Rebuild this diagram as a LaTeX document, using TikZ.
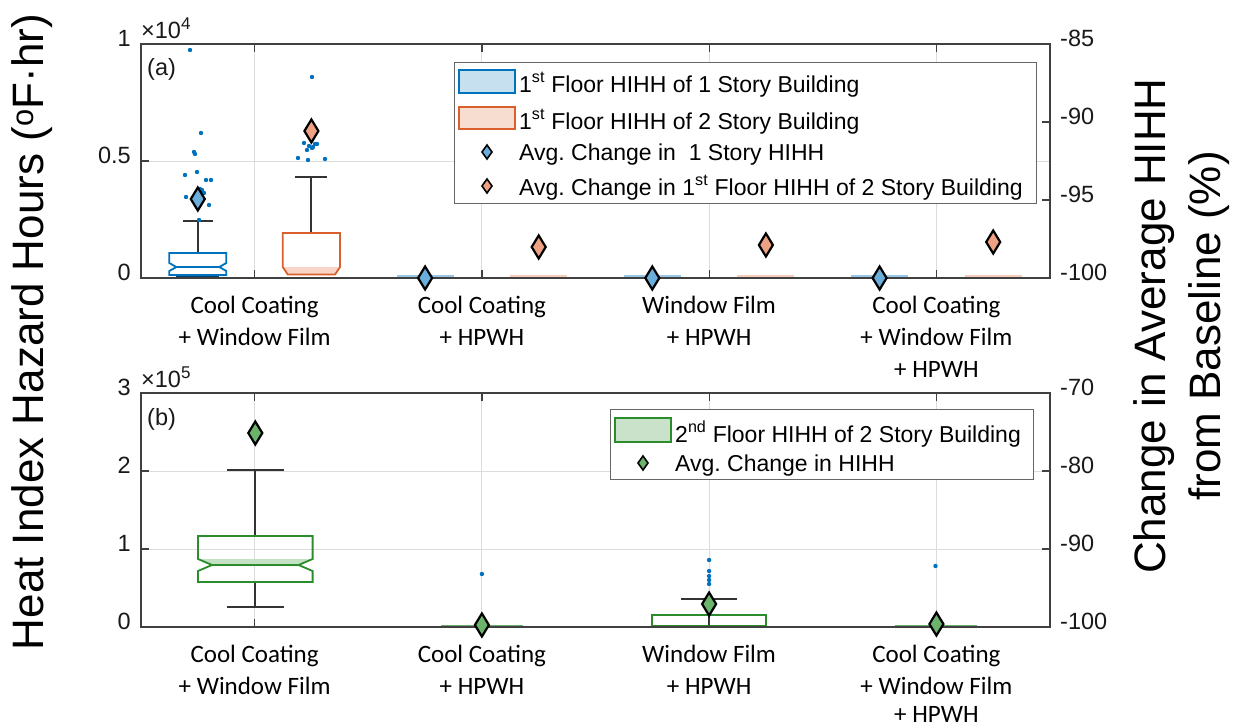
\documentclass[tikz,border=0pt]{standalone}
\usepackage{fontspec}
\setmainfont{Liberation Sans}
\newfontfamily\catfont{Carlito}
\definecolor{mblue}{HTML}{0072BD}
\definecolor{morange}{HTML}{D95F2B}
\definecolor{mgreen}{HTML}{2A8C2A}
\definecolor{axgray}{HTML}{404040}
\definecolor{gridgray}{HTML}{DCDCDC}
\definecolor{fblue}{HTML}{6AAEDC}
\definecolor{forange}{HTML}{EFA283}
\definecolor{fgreen}{HTML}{6CB46C}
\newcommand\sciexp[1]{\raisebox{9pt}{\fontsize{17}{17}\selectfont #1}}
\tikzset{
  gridline/.style={draw=gridgray, line width=1pt},
  axisline/.style={draw=axgray, line width=1.4pt},
  tickmark/.style={draw=axgray, line width=1.2pt},
  whisk/.style={draw=black!80, line width=2pt},
  ticklbl/.style={font=\fontsize{23.5}{28}\selectfont, inner sep=0pt, text=black!90},
  catlbl/.style={font=\catfont\fontsize{25}{30}\selectfont, inner sep=0pt, anchor=base},
  leglbl/.style={font=\fontsize{23}{27}\selectfont, inner sep=0pt, anchor=base west},
  axlbl/.style={font=\fontsize{44}{52}\selectfont, inner sep=0pt, anchor=base, rotate=90},
  legframe/.style={draw=axgray!80, line width=1pt, fill=white},
  pics/avgmark/.style={code={\draw[line width=2.2pt, fill=#1, line join=miter] (-7,0)--(0,-11.5)--(7,0)--(0,11.5)--cycle;}},
  pics/legmark/.style={code={\draw[line width=1.6pt, fill=#1] (-5,0)--(0,-7)--(5,0)--(0,7)--cycle;}},
}
\begin{document}
\begin{tikzpicture}[x=1pt,y=-1pt]
\useasboundingbox (0,0) rectangle (1239,726);

% ---------------- panel (a) ----------------
\foreach \gx in {254.6,481.9,709.1,936.4} \draw[gridline] (\gx,44)--(\gx,278);
\draw[gridline] (141,161)--(1050,161);

% flat boxes at zero
\foreach \gx in {425.1,652.3,879.6} \draw[fblue!70, line width=3pt] (\gx-28.5,276.5)--(\gx+28.5,276.5);
\foreach \gx in {538.7,765.9,993.2} \draw[forange!55, line width=3pt] (\gx-28.5,276.5)--(\gx+28.5,276.5);

% blue box, group 1
\draw[whisk] (197.8,253)--(197.8,221);
\draw[whisk] (183,221)--(213,221);
\draw[mblue, line width=1.8pt] (169.3,253) -- (226.3,253) -- (226.3,263) -- (219.3,267) -- (226.3,271) -- (226.3,275) -- (169.3,275) -- (169.3,271) -- (176.3,267) -- (169.3,263) -- cycle;
\draw[mblue, line width=1.8pt] (176.3,267)--(219.3,267);
\draw[mblue!60!black, line width=2pt] (176.3,277)--(219.3,277);

% orange box, group 1
\draw[whisk] (311.4,233)--(311.4,177);
\draw[whisk] (295,177)--(327,177);
\fill[forange!45] (282.8,267)--(340,267)--(335,274.5)--(287.8,274.5)--cycle;
\draw[morange, line width=1.8pt] (282.8,233)--(340,233)--(340,267)--(335,274.5)--(287.8,274.5)--(282.8,267)--cycle;

% outliers
\foreach \px/\py in {190/50,201/133,194/152,195/154,185/175,197/172,206/180,211/180,186/197,202/190,204/193,209/205,199/220,200/189,
                     312/77,304/143,309/146,315/144,317/144,313/147,307/150,298/158,308/160,325/159,312/148}
  \fill[mblue] (\px,\py) circle[radius=2.2pt];

% axes frame and ticks
\draw[axisline] (141,44) rectangle (1050,278);
\foreach \gx in {254.6,481.9,709.1,936.4} {\draw[tickmark] (\gx,278)--(\gx,270); \draw[tickmark] (\gx,44)--(\gx,52);}
\foreach \ty in {44,161,278} \draw[tickmark] (141,\ty)--(149,\ty);
\foreach \ty in {44,122,200,278} \draw[tickmark] (1050,\ty)--(1042,\ty);

\node[ticklbl, anchor=mid east] (la0) at (131,278) {0};
\node[ticklbl, anchor=mid east] (la5) at (131,161) {0.5};
\node[ticklbl, anchor=mid east] (la10) at (131,44) {1};
\node[ticklbl, anchor=base west] (laexp) at (141,38) {×10\sciexp{4}};
\node[ticklbl, anchor=mid west] (ra85) at (1060,44) {-85};
\node[ticklbl, anchor=mid west] (ra90) at (1060,122) {-90};
\node[ticklbl, anchor=mid west] (ra95) at (1060,200) {-95};
\node[ticklbl, anchor=mid west] (ra100) at (1060,278) {-100};
\node[ticklbl, anchor=base west] (tagA) at (147,75) {(a)};

% average markers
\pic at (197.8,199) {avgmark=fblue};
\pic at (311.4,131) {avgmark=forange};
\pic at (425.1,278) {avgmark=fblue};
\pic at (538.7,247) {avgmark=forange};
\pic at (652.3,278) {avgmark=fblue};
\pic at (765.9,245) {avgmark=forange};
\pic at (879.6,278) {avgmark=fblue};
\pic at (993.2,242) {avgmark=forange};

% legend (a)
\draw[legframe] (454,62) rectangle (1036,203);
\draw[mblue, fill=mblue!22, line width=1.6pt] (459,70) rectangle (515,93);
\draw[morange, fill=morange!22, line width=1.6pt] (459,107) rectangle (515,129);
\pic at (487,152) {legmark=fblue};
\pic at (487,186) {legmark=forange};
\node[leglbl] (lga1) at (519,92) {1\textsuperscript{st} Floor HIHH of 1 Story Building};
\node[leglbl] (lga2) at (519,129) {1\textsuperscript{st} Floor HIHH of 2 Story Building};
\node[leglbl] (lga3) at (519,160) {Avg.\ Change in~ 1 Story HIHH};
\node[leglbl] (lga4) at (519,195) {Avg.\ Change in 1\textsuperscript{st} Floor HIHH of 2 Story Building};

% category labels (a)
\node[catlbl] (ca1a) at (254.6,313) {Cool Coating};
\node[catlbl] (ca1b) at (254.6,345) {+ Window Film};
\node[catlbl] (ca2a) at (481.9,313) {Cool Coating};
\node[catlbl] (ca2b) at (481.9,345) {+ HPWH};
\node[catlbl] (ca3a) at (709.1,313) {Window Film};
\node[catlbl] (ca3b) at (709.1,345) {+ HPWH};
\node[catlbl] (ca4a) at (936.4,313) {Cool Coating};
\node[catlbl] (ca4b) at (936.4,345) {+ Window Film};
\node[catlbl] (ca4c) at (936.4,377) {+ HPWH};

% ---------------- panel (b) ----------------
\foreach \gx in {254.6,481.9,709.1,936.4} \draw[gridline] (\gx,393)--(\gx,627);
\foreach \ty in {471,549} \draw[gridline] (141,\ty)--(1050,\ty);

% flat boxes at zero
\draw[mgreen!70, line width=2.5pt] (441,626)--(523,626);
\draw[mgreen!70, line width=2.5pt] (895,626)--(977,626);

% green box, group 1
\draw[whisk] (255.3,536)--(255.3,470);
\draw[whisk] (227,470)--(284,470);
\draw[whisk] (255.3,582)--(255.3,607);
\draw[whisk] (227,607)--(284,607);
\fill[fgreen!40] (198,559)--(312.6,559)--(298.6,566)--(212,566)--cycle;
\draw[mgreen, line width=1.8pt] (198,536)--(312.6,536)--(312.6,559)--(298.6,565)--(312.6,571)--(312.6,582)--(198,582)--(198,571)--(212,565)--(198,559)--cycle;
\draw[mgreen, line width=1.8pt] (212,565)--(298.6,565);

% green box, group 3
\draw[whisk] (709.1,615)--(709.1,599);
\draw[whisk] (681,599)--(737,599);
\draw[whisk] (709.1,615)--(709.1,626);
\draw[mgreen, line width=1.8pt] (651.7,615) rectangle (765.7,626);

% outliers
\foreach \px/\py in {481.9/574,709.1/560,709.1/571,709.1/576,709.1/580,709.1/584,935.5/566}
  \fill[mblue] (\px,\py) circle[radius=2.2pt];

% axes frame and ticks
\draw[axisline] (141,393) rectangle (1050,627);
\foreach \gx in {254.6,481.9,709.1,936.4} {\draw[tickmark] (\gx,627)--(\gx,619); \draw[tickmark] (\gx,393)--(\gx,401);}
\foreach \ty in {393,471,549,627} {\draw[tickmark] (141,\ty)--(149,\ty); \draw[tickmark] (1050,\ty)--(1042,\ty);}

\node[ticklbl, anchor=mid east] (lb0) at (131,627) {0};
\node[ticklbl, anchor=mid east] (lb1) at (131,549) {1};
\node[ticklbl, anchor=mid east] (lb2) at (131,471) {2};
\node[ticklbl, anchor=mid east] (lb3) at (131,393) {3};
\node[ticklbl, anchor=base west] (lbexp) at (141,387) {×10\sciexp{5}};
\node[ticklbl, anchor=mid west] (rb70) at (1060,393) {-70};
\node[ticklbl, anchor=mid west] (rb80) at (1060,471) {-80};
\node[ticklbl, anchor=mid west] (rb90) at (1060,549) {-90};
\node[ticklbl, anchor=mid west] (rb100) at (1060,627) {-100};
\node[ticklbl, anchor=base west] (tagB) at (147,425) {(b)};

% average markers
\pic at (255.3,433) {avgmark=fgreen};
\pic at (481.9,625) {avgmark=fgreen};
\pic at (709.1,604) {avgmark=fgreen};
\pic at (936.4,624) {avgmark=fgreen};

% legend (b)
\draw[legframe] (610,409) rectangle (1033,479);
\draw[mgreen, fill=mgreen!25, line width=1.6pt] (615,418) rectangle (671,442);
\pic at (643,463) {legmark=fgreen};
\node[leglbl] (lgb1) at (675,442) {2\textsuperscript{nd} Floor HIHH of 2 Story Building};
\node[leglbl] (lgb2) at (675,471) {Avg.\ Change in HIHH};

% category labels (b)
\node[catlbl] (cb1a) at (254.6,662) {Cool Coating};
\node[catlbl] (cb1b) at (254.6,694) {+ Window Film};
\node[catlbl] (cb2a) at (481.9,662) {Cool Coating};
\node[catlbl] (cb2b) at (481.9,694) {+ HPWH};
\node[catlbl] (cb3a) at (709.1,662) {Window Film};
\node[catlbl] (cb3b) at (709.1,694) {+ HPWH};
\node[catlbl] (cb4a) at (936.4,662) {Cool Coating};
\node[catlbl] (cb4b) at (936.4,694) {+ Window Film};
\node[catlbl] (cb4c) at (936.4,722) {+ HPWH};

% ---------------- axis titles ----------------
\node[axlbl] (ytitle) at (43,332) {Heat Index Hazard Hours (\textsuperscript{o}F·hr)};
\node[axlbl] (rtitle1) at (1165,326) {Change in Average HIHH};
\node[axlbl] (rtitle2) at (1220,326) {from Baseline (\%)};
\end{tikzpicture}
\end{document}
